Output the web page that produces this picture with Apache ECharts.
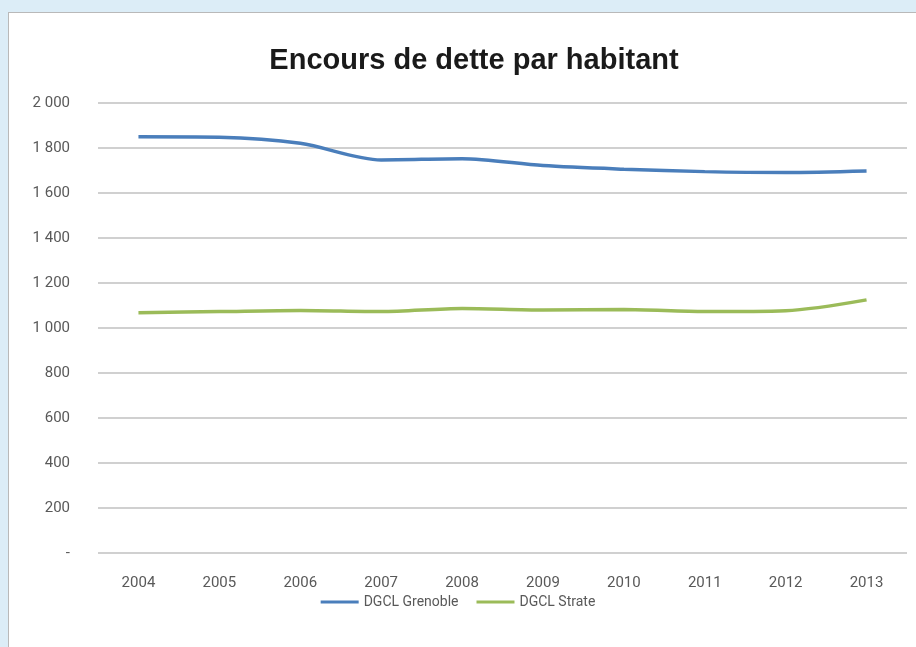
<!DOCTYPE html>
<html>
<head>
    <meta charset="utf-8">
    <title>Encours de dette par habitant</title>
    <script src="https://cdn.jsdelivr.net/npm/echarts@6/dist/echarts.min.js"></script>
    <style>
        html, body {
            margin: 0;
            padding: 0;
            background: #dcedf7;
        }
        .frame {
            position: absolute;
            left: 8px;
            top: 12px;
            width: 920px;
            height: 650px;
            background: #fff;
            border: 1px solid #b9b9b9;
        }
        #main {
            position: absolute;
            left: 0;
            top: 0;
            width: 916px;
            height: 647px;
        }
    </style>
</head>
<body>
<div class="frame"></div>
<div id="main"></div>
<script>
    var years = ['2004', '2005', '2006', '2007', '2008', '2009', '2010', '2011', '2012', '2013'];
    var grenoble = [1850, 1848, 1821, 1747, 1752, 1722, 1706, 1695, 1691, 1698];
    var strate = [1068, 1073, 1078, 1073, 1087, 1080, 1082, 1073, 1077, 1125];

    var labelFont = 'Roboto';

    var myChart = echarts.init(document.getElementById('main'));
    myChart.setOption({
        backgroundColor: 'transparent',
        title: {
            text: 'Encours de dette par habitant',
            left: 469,
            textAlign: 'center',
            top: 41,
            textStyle: {
                fontFamily: 'Liberation Sans',
                fontSize: 29,
                fontWeight: 'bold',
                color: '#1a1a1a'
            }
        },
        legend: {
            bottom: 33,
            left: 'center',
            itemWidth: 38,
            itemHeight: 3,
            itemGap: 18,
            icon: 'rect',
            textStyle: {
                fontFamily: labelFont,
                fontSize: 14,
                color: '#595959'
            },
            data: ['DGCL Grenoble', 'DGCL Strate']
        },
        grid: {
            left: 98,
            right: 9,
            top: 103,
            bottom: 94
        },
        xAxis: {
            type: 'category',
            data: years,
            boundaryGap: true,
            axisLine: {show: false},
            axisTick: {show: false},
            axisLabel: {
                margin: 23,
                fontFamily: labelFont,
                fontSize: 15,
                color: '#595959'
            }
        },
        yAxis: {
            type: 'value',
            min: 0,
            max: 2000,
            interval: 200,
            axisLine: {show: false},
            axisTick: {show: false},
            axisLabel: {
                margin: 28,
                fontFamily: labelFont,
                fontSize: 15,
                color: '#595959',
                formatter: function (v) {
                    if (v === 0) return '-';
                    return String(v).replace(/\B(?=(\d{3})+(?!\d))/g, ' ');
                }
            },
            splitLine: {
                lineStyle: {color: '#d0d0d0', width: 2}
            }
        },
        series: [
            {
                name: 'DGCL Grenoble',
                type: 'line',
                data: grenoble,
                smooth: 0.3,
                symbol: 'none',
                color: '#4a7ebb',
                lineStyle: {width: 3.5}
            },
            {
                name: 'DGCL Strate',
                type: 'line',
                data: strate,
                smooth: 0.3,
                symbol: 'none',
                color: '#9bbb59',
                lineStyle: {width: 3.5}
            }
        ]
    });
</script>
</body>
</html>
